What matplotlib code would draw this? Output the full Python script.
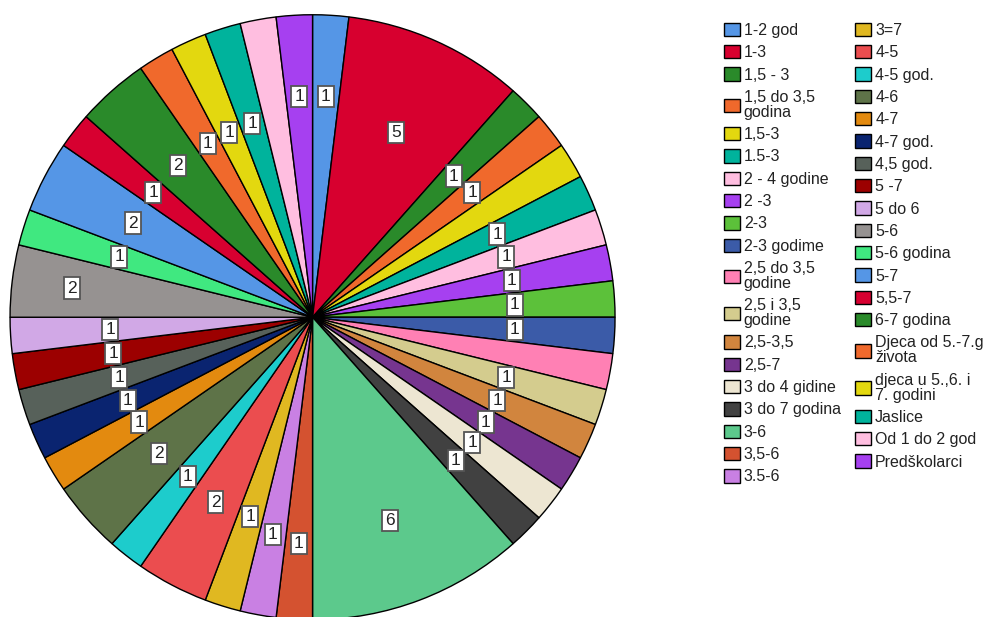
import matplotlib
matplotlib.use("Agg")
import matplotlib.pyplot as plt
import numpy as np

plt.rcParams['font.family'] = ['Liberation Sans', 'DejaVu Sans']

# kategorije (redom kao u legendi) i broj odgovora
kategorije = ["1-2 god", "1-3", "1,5 - 3", "1,5 do 3,5\ngodina", "1,5-3", "1.5-3",
              "2 - 4 godine", "2 -3", "2-3", "2-3 godime", "2,5 do 3,5\ngodine",
              "2,5 i 3,5\ngodine", "2,5-3,5", "2,5-7", "3 do 4 gidine", "3 do 7 godina",
              "3-6", "3,5-6", "3.5-6",
              "3=7", "4-5", "4-5 god.", "4-6", "4-7", "4-7 god.", "4,5 god.", "5 -7",
              "5 do 6", "5-6", "5-6 godina", "5-7", "5,5-7", "6-7 godina",
              "Djeca od 5.-7.g\nživota", "djeca u 5.,6. i\n7. godini", "Jaslice",
              "Od 1 do 2 god", "Predškolarci"]
brojevi = [1, 5, 1, 1, 1, 1,
           1, 1, 1, 1, 1,
           1, 1, 1, 1, 1,
           6, 1, 1,
           1, 2, 1, 2, 1, 1, 1, 1,
           1, 2, 1, 2, 1, 2,
           1, 1, 1,
           1, 1]
boje = ["#5596E6", "#D7002F", "#2A8A2A", "#F0692C", "#E3D80F", "#00B39C",
        "#FFBEE0", "#A640F0", "#5CC13A", "#3B5BA8", "#FF80B4",
        "#D4CC8E", "#D1853E", "#76358F", "#EDE6D2", "#414141",
        "#5CC98C", "#D45230", "#C980E3",
        "#E0B821", "#EB4D4F", "#1DCCCC", "#5E7348", "#E38A0F", "#0A2470", "#57615A", "#9C0000",
        "#D1A8E6", "#969291", "#40E880", "#5596E6", "#D70030", "#2A8A2A",
        "#F0692C", "#E3D80F", "#00B39C",
        "#FFBEE0", "#A640F0"]

# udaljenost oznake od sredista (None = oznaka skrivena)
oznaka_r = [0.73, 0.67, 0.66, 0.67, None, 0.67,
            0.67, 0.67, 0.67, 0.67, None,
            0.67, 0.67, 0.67, 0.67, 0.67,
            0.72, 0.75, 0.73,
            0.69, 0.69, 0.67, 0.68, 0.67, 0.67, 0.67, 0.67,
            0.67, 0.80, 0.67, 0.67, 0.67, 0.67,
            0.67, 0.67, 0.67,
            None, 0.73]

fig = plt.figure(figsize=(9.93, 6.17), dpi=100)
ax = fig.add_axes([0.0101, -0.0044, 0.6093, 0.9805])

wedges, _ = ax.pie(brojevi, colors=boje, startangle=90, counterclock=False,
                   wedgeprops=dict(edgecolor='black', linewidth=1.0))
ax.set_xlim(-1.0, 1.0)
ax.set_ylim(-1.0, 1.0)
ax.set_aspect('equal')

for w, n, r in zip(wedges, brojevi, oznaka_r):
    if r is None:
        continue
    kut = np.deg2rad((w.theta1 + w.theta2) / 2)
    ax.text(r * np.cos(kut), r * np.sin(kut), str(n), ha='center', va='center',
            fontsize=12.5, color='#222222',
            bbox=dict(boxstyle='square,pad=0.18', facecolor='white',
                      edgecolor='#555555', linewidth=1.3))

leg = fig.legend(wedges, kategorije, ncol=2, loc='upper left',
                 bbox_to_anchor=(0.729, 0.963), frameon=False,
                 fontsize=11.5, handlelength=1.0, handleheight=0.9,
                 handletextpad=0.25, labelspacing=0.45, columnspacing=0.9,
                 borderpad=0, borderaxespad=0)
for t in leg.get_texts():
    t.set_linespacing(1.0)
    t.set_color('#222222')

fig.savefig("out.png", dpi=100)
